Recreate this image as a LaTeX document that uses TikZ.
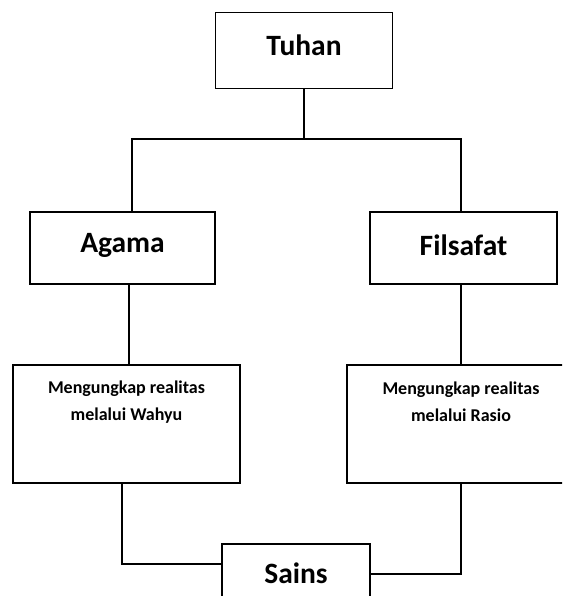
\documentclass[tikz,border=0pt]{standalone}
\usepackage{fontspec}
\setmainfont{Carlito}
\usetikzlibrary{calc}
\begin{document}
\begin{tikzpicture}[x=1pt,y=-1pt,
  box/.style={draw,line width=1.2pt,inner sep=0pt},
  big/.style={font=\bfseries\fontsize{29.5}{32}\selectfont},
  small/.style={font=\bfseries\fontsize{18}{26.7}\selectfont,align=center},
  conn/.style={line width=1.2pt}]
\useasboundingbox (0,0) rectangle (562,596);
\begin{scope}
\clip (0,0) rectangle (562,596);
\node[box,minimum width=177pt,minimum height=76pt] (tuhan) at (304,50.5) {};
\node[big] (tuhant) at (304,45) {Tuhan};
\node[box,minimum width=185pt,minimum height=72pt] (agama) at (122.5,248) {};
\node[big] (agamat) at (122.5,245) {Agama};
\node[box,minimum width=187pt,minimum height=72pt] (filsafat) at (463.5,248) {};
\node[big] (filsafatt) at (463.5,245) {Filsafat};
\node[box,minimum width=227pt,minimum height=118pt] (wahyu) at (126.5,424) {};
\node[small] (wahyut) at (126.5,402) {Mengungkap realitas\\melalui Wahyu};
\node[box,minimum width=228pt,minimum height=118pt] (rasio) at (461,424) {};
\node[small] (rasiot) at (461,402) {Mengungkap realitas\\melalui Rasio};
\node[box,minimum width=148pt,minimum height=60pt] (sains) at (296,574) {};
\node[big] (sainst) at (296,573) {Sains};
\coordinate (jl) at (132,139);
\coordinate (jr) at (461,139);
\draw[conn] (tuhan.south) -- (tuhan.south |- jl);
\draw[conn] (agama.north -| jl) -- (jl) -- (jr) -- (filsafat.north -| jr);
\draw[conn] ([xshift=6.5pt]agama.south) -- ([xshift=2.5pt]wahyu.north);
\draw[conn] (rasio.north) -- (rasio.north |- filsafat.south);
\draw[conn] ([xshift=-4.5pt]wahyu.south) |- ([yshift=10pt]sains.west);
\draw[conn] (rasio.south) |- (sains.east);
\end{scope}
\end{tikzpicture}
\end{document}
